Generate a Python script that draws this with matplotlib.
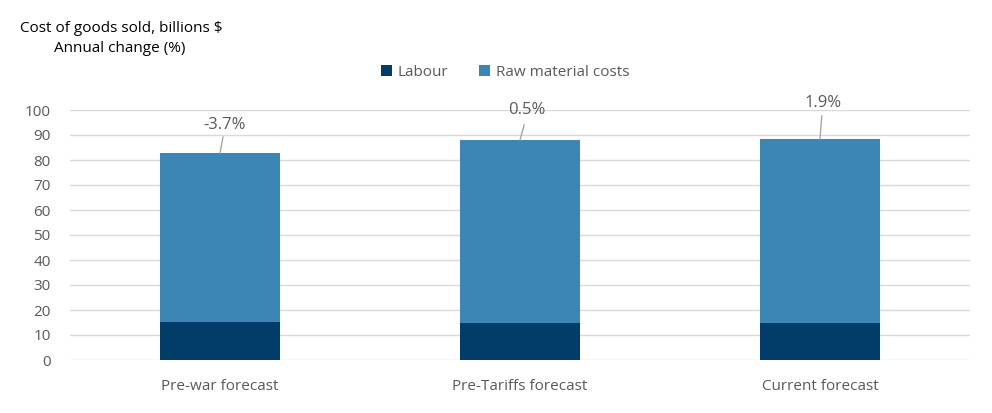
import matplotlib.pyplot as plt
import numpy as np
from matplotlib.patches import Patch

plt.rcParams.update({'font.family': ['Open Sans', 'DejaVu Sans'], 'font.size': 11})

categories = ['Pre-war forecast', 'Pre-Tariffs forecast', 'Current forecast']
labour = [15.2, 14.8, 14.8]
raw_material = [67.6, 73.2, 73.6]
changes = ['-3.7%', '0.5%', '1.9%']

c_labour = '#023d69'
c_raw = '#3c86b6'
grey_txt = '#595959'

fig = plt.figure(figsize=(9.92, 4.13), dpi=100)
ax = fig.add_axes([70 / 992, 1 - 360 / 413, 900 / 992, 250 / 413])

x = np.arange(len(categories))
ax.bar(x, labour, width=0.4, color=c_labour, zorder=3)
ax.bar(x, raw_material, width=0.4, bottom=labour, color=c_raw, zorder=3)

# data labels with leader lines (offsets as in the original)
totals = [l + r for l, r in zip(labour, raw_material)]
label_pos = [(0.017, 94.0, 89.2), (0.023, 100.0, 94.0), (0.01, 102.8, 97.6)]
for i, (dx, ty, ly) in enumerate(label_pos):
    ax.text(i + dx, ty, changes[i], ha='center', va='center', color=grey_txt,
            fontsize=12, clip_on=False)
    ax.plot([i + dx * 0.6, i], [ly, totals[i]], color='#a6a6a6', lw=1,
            clip_on=False, zorder=4)

ax.set_xlim(-0.5, 2.5)
ax.set_ylim(0, 100)
ax.set_yticks(range(0, 101, 10))
ax.set_xticks(x)
ax.set_xticklabels(categories)
ax.grid(axis='y', color='#d9d9d9', lw=1, zorder=0)
for s in ax.spines.values():
    s.set_visible(False)
ax.tick_params(length=0, colors=grey_txt, labelsize=11)
ax.tick_params(axis='x', pad=14)
ax.tick_params(axis='y', pad=14)

fig.text(20 / 992, 1 - 28 / 413, 'Cost of goods sold, billions $', ha='left',
         va='center', fontsize=11, color='black')
fig.text(120 / 992, 1 - 48 / 413, 'Annual change (%)', ha='center',
         va='center', fontsize=11, color='black')

handles = [Patch(facecolor=c_labour, label='Labour'),
           Patch(facecolor=c_raw, label='Raw material costs')]
fig.legend(handles=handles, loc='center', bbox_to_anchor=(505 / 992, 1 - 72 / 413),
           ncol=2, frameon=False, handlelength=0.7, handleheight=0.7,
           handletextpad=0.4, columnspacing=2.0, labelcolor=grey_txt, fontsize=11)

fig.savefig('out.png', dpi=100)
